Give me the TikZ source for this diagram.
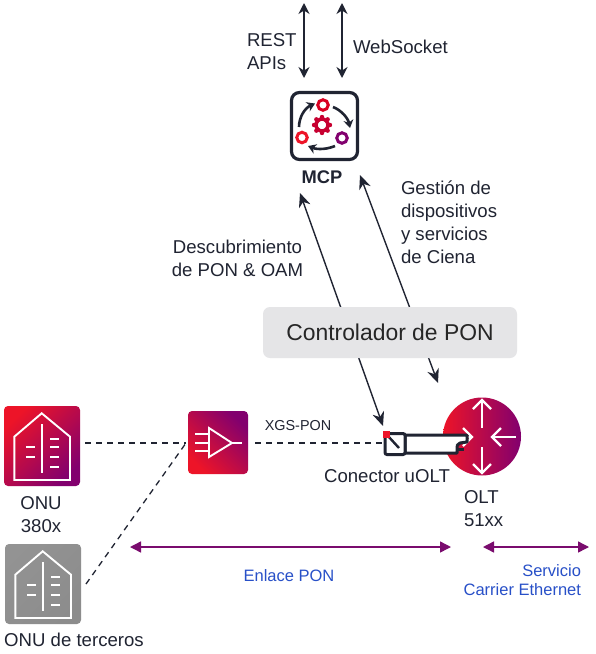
\documentclass[tikz,border=0pt]{standalone}
\usepackage{fontspec}
\setmainfont{Liberation Sans}
\usepackage{tikz}
\usetikzlibrary{arrows.meta}
\definecolor{inkColor}{RGB}{32,36,50}
\definecolor{redColor}{RGB}{237,20,40}
\definecolor{plumColor}{RGB}{130,0,110}
\definecolor{linkColor}{RGB}{122,12,110}
\definecolor{blueColor}{RGB}{40,80,200}
\definecolor{panelColor}{RGB}{229,229,231}
\tikzset{
  label text/.style={text=inkColor,inner sep=0pt,outer sep=0pt,font=\fontsize{18.6}{23}\selectfont},
  blue text/.style={text=blueColor,inner sep=0pt,outer sep=0pt,font=\fontsize{16.5}{19}\selectfont},
  api arrow/.style={draw=inkColor,line width=1.7pt,{Stealth[length=11pt,width=11pt]}-{Stealth[length=11pt,width=11pt]}},
  mgmt arrow/.style={draw=inkColor,line width=1.4pt,{Stealth[length=14pt,width=12pt]}-{Stealth[length=14pt,width=12pt]}},
  span arrow/.style={draw=linkColor,line width=1.4pt,{Triangle[length=11pt,width=11pt]}-{Triangle[length=11pt,width=11pt]}},
  fibre/.style={draw=inkColor,line width=1.3pt,dash pattern=on 6pt off 5pt},
  icon box/.style={rectangle,rounded corners=4pt,inner sep=0pt,outer sep=0pt,anchor=north west},
  red box/.style={icon box,left color=redColor,right color=plumColor,shading angle=45},
  split box/.style={icon box,left color=redColor,right color=plumColor,shading angle=135},
  grey box/.style={icon box,left color=gray!85,right color=gray!110!black,shading angle=45},
  glyph/.style={draw=white,line width=1.9pt},
  olt arrow/.style={draw=white,line width=2.2pt},
  olt head/.style={draw=white,line width=2.2pt,line join=miter},
  ring/.style={circle,draw,line width=3pt,minimum size=10.5pt,inner sep=0pt,fill=white},
  turn/.style={draw=inkColor,line width=2.6pt,-{Stealth[length=8pt,width=10pt]}},
  pics/house/.style={code={
    \draw[glyph] (10.3,74) -- (10.3,30.7) -- (37.7,7.3) -- (66,30.7) -- (66,74) -- cycle;
    \draw[glyph] (38,18) -- (38,67);
    \foreach \yy in {41,51}{\draw[glyph] (22,\yy) -- (31,\yy);}
    \foreach \yy in {33,41,51,61}{\draw[glyph] (46,\yy) -- (55,\yy);}
  }}
}
\begin{document}
\begin{tikzpicture}[x=1pt,y=-1pt]
\path[use as bounding box,fill=white] (0,0) rectangle (596,654);

% connection points
\coordinate (restTop) at (304,3);
\coordinate (restEnd) at (304,78);
\coordinate (wsTop) at (342,3);
\coordinate (wsEnd) at (342,78);
\coordinate (discTop) at (300,193);
\coordinate (discEnd) at (383,426);
\coordinate (mgmtTop) at (360,175);
\coordinate (mgmtEnd) at (438,383);
\coordinate (ponLeft) at (130,547);
\coordinate (ponRight) at (451,547);
\coordinate (carrierLeft) at (483,547);
\coordinate (carrierRight) at (589,547);
\coordinate (onuPort) at (85,443);
\coordinate (thirdPort) at (86,584);
\coordinate (splitIn) at (186,443);
\coordinate (splitOut) at (255,443);
\coordinate (uoltIn) at (384,443);

\draw[api arrow] (restTop) -- (restEnd);
\draw[api arrow] (wsTop) -- (wsEnd);
\draw[mgmt arrow] (discTop) -- (discEnd);
\draw[mgmt arrow] (mgmtTop) -- (mgmtEnd);

% controller
\node[fill=panelColor,rounded corners=7pt,minimum width=254pt,minimum height=51pt,inner sep=0pt,font=\fontsize{22.9}{26}\selectfont,text=black!85] (controller) at (390,332.5) {Controlador de PON};

% MCP icon
\node[rectangle,draw=inkColor,line width=3.2pt,rounded corners=8pt,minimum width=66pt,minimum height=67pt,fill=white] (mcp) at (324.5,126) {};
\node[ring,draw=red!70!plumColor] (ringTop) at (323,105) {};
\node[ring,draw=redColor] (ringLeft) at (302,137.5) {};
\node[ring,draw=plumColor] (ringRight) at (342,138) {};
\foreach \aa in {0,45,...,315}{
  \fill[red!55!plumColor] (322,125) ++(\aa:8) circle (2.2pt);
}
\node[circle,draw=red!55!plumColor,line width=3.6pt,minimum size=12pt,inner sep=0pt,fill=white] (gear) at (322,125) {};
\draw[turn] (299,127) .. controls (299,117) and (305,108) .. (315,103.5);
\draw[turn] (333,107) .. controls (341,110) and (348,118) .. (350,128);
\draw[turn] (335,146) .. controls (328,149) and (318,150) .. (308,146);

% access side
\node[red box,minimum width=76pt,minimum height=80pt] (onu) at (4,406) {};
\pic at (4,406) {house};
\node[grey box,minimum width=76pt,minimum height=80pt] (onuThird) at (5,544) {};
\pic at (5,544) {house};
\node[split box,minimum width=60pt,minimum height=63pt] (splitter) at (188,411) {};
\draw[glyph] (209,428) -- (232,443) -- (209,457) -- cycle;
\draw[glyph] (232,443) -- (242,443);
\foreach \yy in {434,443,451}{\draw[glyph] (195,\yy) -- (209,\yy);}

\draw[fibre] (onuPort) -- (splitIn);
\draw[fibre] (thirdPort) -- (splitIn);
\draw[fibre] (splitOut) -- (uoltIn);

% OLT
\node[circle,minimum size=78pt,inner sep=0pt,outer sep=0pt,left color=redColor,right color=plumColor] (olt) at (482,436.5) {};
\draw[olt arrow] (482,428) -- (482,400);
\draw[olt head] (473,409) -- (482,400) -- (491,409);
\draw[olt arrow] (482,447) -- (482,473);
\draw[olt head] (473,464) -- (482,473) -- (491,464);
\draw[olt arrow] (516,437) -- (492,437);
\draw[olt head] (501,428) -- (492,437) -- (501,446);
\draw[olt arrow] (450,437) -- (472,437);
\draw[olt head] (463,428) -- (472,437) -- (463,446);

% uOLT connector
\draw[draw=inkColor,line width=3pt,fill=white,line join=round] (405,435) -- (467,435) -- (467,442) -- (460,443) .. controls (457,444) and (457,446) .. (457,448) -- (457,453) -- (405,453) -- cycle;
\draw[draw=inkColor,line width=3pt,line join=round] (458,449) -- (464,449);
\node[rectangle,rounded corners=2pt,draw=inkColor,line width=3pt,fill=white,minimum width=20pt,minimum height=21pt,inner sep=0pt] (uolt) at (395,444) {};
\draw[draw=inkColor,line width=2.4pt] (388,436) -- (399,448);
\node[fill=redColor,minimum size=7pt,inner sep=0pt] (uoltPort) at (386,434) {};

\draw[span arrow] (ponLeft) -- (ponRight);
\draw[span arrow] (carrierLeft) -- (carrierRight);

% labels
\node[label text,align=left,anchor=west] (restLabel) at (247,52) {REST\\APIs};
\node[label text,anchor=west] (wsLabel) at (353,46.5) {WebSocket};
\node[label text,font=\fontsize{18.3}{20}\selectfont\bfseries] (mcpLabel) at (322,177) {MCP};
\node[label text,align=left,anchor=west] (mgmtLabel) at (401,222) {Gestión de\\dispositivos\\y servicios\\de Ciena};
\node[label text,align=center] (discLabel) at (237.5,258.5) {Descubrimiento\\de PON \& OAM};
\node[label text,font=\fontsize{14.4}{15}\selectfont] (xgsLabel) at (298,426) {XGS-PON};
\node[label text] (uoltLabel) at (387,476) {Conector uOLT};
\node[label text,align=left,anchor=west] (oltLabel) at (464,508.5) {OLT\\51xx};
\node[label text,align=center] (onuLabel) at (41,514.5) {ONU\\380x};
\node[label text] (thirdLabel) at (74,640) {ONU de terceros};
\node[blue text] (ponLabel) at (289,576) {Enlace PON};
\node[blue text,align=right,anchor=east] (carrierLabel) at (581,580.5) {Servicio\\Carrier Ethernet};
\end{tikzpicture}
\end{document}
